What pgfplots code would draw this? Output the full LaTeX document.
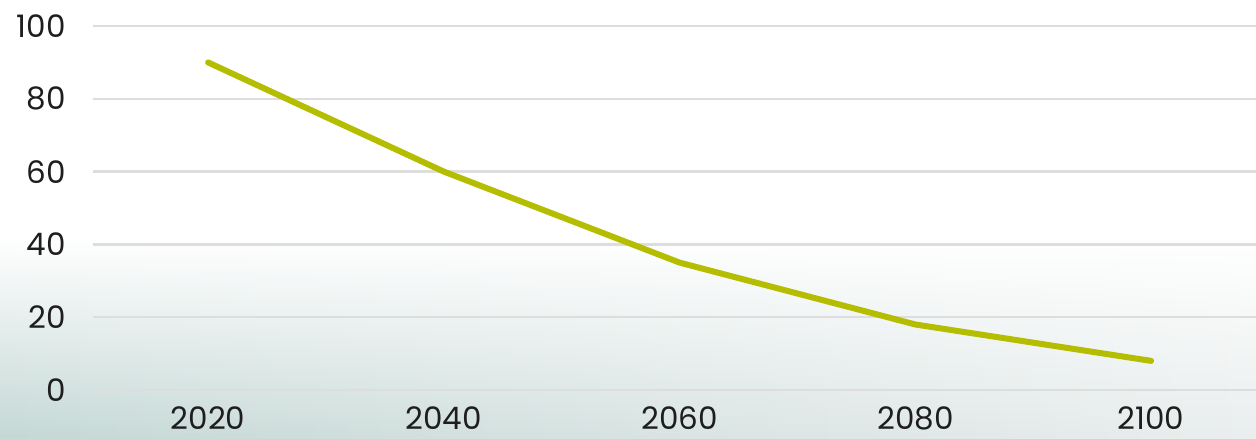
\documentclass[border=0pt]{standalone}
\usepackage{pgfplots}
\pgfplotsset{compat=1.18}
\usepackage{fontspec}
\setmainfont{Poppins}
\usetikzlibrary{fadings}
\definecolor{lineC}{RGB}{181,189,0}
\definecolor{gridC}{RGB}{221,221,221}
\definecolor{bgL}{RGB}{196,216,213}
\definecolor{bgM}{RGB}{150,190,191}
\definecolor{bgR}{RGB}{234,238,238}
\definecolor{txt}{RGB}{30,30,30}
\begin{document}
\begin{tikzpicture}[x=1pt,y=1pt]
\useasboundingbox (0,0) rectangle (1256,439);
\fill[white] (0,0) rectangle (1256,439);
\shade[left color=bgL, middle color=bgM, right color=bgR, path fading=north] (0,0) rectangle (1256,200);
\begin{axis}[
  at={(93pt,49pt)}, anchor=south west,
  scale only axis, width=1163pt, height=364pt,
  xmin=-0.488, xmax=4.445, ymin=0, ymax=100,
  xtick={0,1,2,3,4}, xticklabels={2020,2040,2060,2080,2100},
  ytick={0,20,40,60,80,100}, yticklabels={0,20,40,60,80,100},
  axis line style={draw=none}, major tick length=0pt,
  ymajorgrids, grid style={gridC, line width=2.3pt},
  tick label style={font=\fontsize{31}{34}\selectfont, text=txt, inner sep=0pt},
  yticklabel style={anchor=east, xshift=-27pt},
  xticklabel style={anchor=base, yshift=-40pt},
  clip=false,
]
\addplot[lineC, line width=6pt, line cap=round, line join=round] coordinates {(0,90) (1,60) (2,35) (3,18) (4,8)};
\end{axis}
\end{tikzpicture}
\end{document}
